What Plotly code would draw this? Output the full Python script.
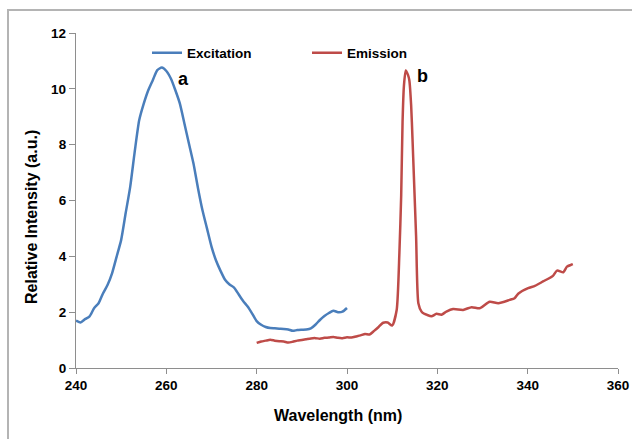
import plotly.graph_objects as go

# Excitation spectrum (blue)
exc_wl = [240, 241, 242, 243, 244, 245, 246, 247, 248, 249, 250, 251, 252, 253, 254,
          255, 256, 257, 258, 259, 260, 261, 262, 263, 264, 265, 266, 267, 268, 269,
          270, 271, 272, 273, 274, 275, 276, 277, 278, 279, 280, 281, 282, 283, 284,
          285, 286, 287, 288, 289, 290, 291, 292, 293, 294, 295, 296, 297, 298, 299, 300]
exc_int = [1.70, 1.63, 1.75, 1.85, 2.14, 2.32, 2.68, 2.98, 3.40, 3.99, 4.59, 5.55, 6.49, 7.75, 8.88,
           9.47, 9.95, 10.31, 10.67, 10.76, 10.64, 10.37, 9.95, 9.47, 8.76, 8.04, 7.33, 6.45, 5.65, 5.00,
           4.35, 3.85, 3.48, 3.16, 2.99, 2.88, 2.64, 2.40, 2.20, 1.95, 1.68, 1.55, 1.47, 1.43, 1.42,
           1.41, 1.40, 1.38, 1.33, 1.36, 1.37, 1.38, 1.42, 1.55, 1.72, 1.86, 1.97, 2.05, 2.00, 2.02, 2.15]

# Emission spectrum (red)
emi_wl = [280, 281, 282, 283, 284, 285, 286, 287, 288, 289, 290, 291, 292, 293, 294,
          295, 296, 297, 298, 299, 300, 301, 302, 303, 304, 305, 306, 307, 308, 309,
          310, 311, 311.6, 312.0, 312.3, 312.6, 313.0, 313.5, 313.8, 314.2, 314.5, 314.8,
          315.3, 315.8, 316.5, 317, 317.6, 318.7, 319.8, 320.9, 322, 323.5, 325.7, 327.6,
          329.4, 331.6, 333.5, 336, 337.1, 337.9, 340.1, 341.6, 343.4, 345.6, 346.5, 347.9,
          348.7, 349.7, 350]
emi_int = [0.90, 0.95, 0.98, 1.01, 0.98, 0.96, 0.95, 0.91, 0.94, 0.98, 1.00, 1.03, 1.06, 1.07, 1.05,
           1.08, 1.09, 1.11, 1.08, 1.07, 1.10, 1.09, 1.13, 1.17, 1.22, 1.20, 1.33, 1.47, 1.62, 1.63,
           1.52, 2.08, 4.12, 6.20, 8.82, 10.10, 10.66, 10.50, 10.31, 9.41, 8.22, 6.90,
           4.70, 2.32, 2.02, 1.95, 1.91, 1.85, 1.94, 1.91, 2.02, 2.11, 2.08, 2.18,
           2.14, 2.37, 2.32, 2.44, 2.50, 2.66, 2.86, 2.94, 3.10, 3.30, 3.49, 3.43,
           3.63, 3.70, 3.72]

x_ticks = [240, 260, 280, 300, 320, 340, 360]
y_ticks = [0, 2, 4, 6, 8, 10, 12]

FONT = "Liberation Sans, Arial, sans-serif"
AXIS_GRAY = "#8E8E8E"

# plot area geometry (pixels inside the figure)
L, T, PW, PH = 76, 33, 542, 335
BASE = T + PH


def px_x(p):
    return (p - L) / PW


def px_y(p):
    return (BASE - p) / PH


fig = go.Figure()
fig.add_trace(go.Scatter(x=exc_wl, y=exc_int, mode="lines", name="Excitation",
                         line=dict(color="#4A7EBB", width=2.5, shape="spline", smoothing=0.6)))
fig.add_trace(go.Scatter(x=emi_wl, y=emi_int, mode="lines", name="Emission",
                         line=dict(color="#BE4B48", width=2.5, shape="spline", smoothing=0.6)))

fig.update_layout(
    width=632, height=439,
    margin=dict(l=L, r=632 - L - PW, t=T, b=439 - T - PH, autoexpand=False),
    paper_bgcolor="white", plot_bgcolor="white",
    font=dict(family=FONT, color="black"),
    showlegend=True,
    legend=dict(orientation="h", x=px_x(147), xanchor="left", y=px_y(53), yanchor="middle",
                font=dict(size=13.5, family=FONT, color="black", weight="bold"),
                entrywidth=115, entrywidthmode="pixels",
                bgcolor="rgba(0,0,0,0)"),
    xaxis=dict(range=[240, 360], tickvals=x_ticks, ticktext=[str(v) for v in x_ticks],
               automargin=False,
               showgrid=False, zeroline=False, showline=True, linecolor=AXIS_GRAY, linewidth=1.3,
               ticks="outside", ticklen=5, tickcolor=AXIS_GRAY, tickwidth=1.3,
               tickfont=dict(size=13.5, family=FONT, color="black", weight="bold")),
    yaxis=dict(range=[0, 12], tickvals=y_ticks, ticktext=[str(v) for v in y_ticks],
               automargin=False,
               showgrid=False, zeroline=False, showline=True, linecolor=AXIS_GRAY, linewidth=1.3,
               ticks="outside", ticklen=6, tickcolor=AXIS_GRAY, tickwidth=1.3,
               tickfont=dict(size=13.5, family=FONT, color="black", weight="bold")),
)

# Outer chart border (extends beyond the bottom/right of the picture)
fig.add_shape(type="rect", xref="paper", yref="paper",
              x0=px_x(8), x1=px_x(645), y0=px_y(450), y1=px_y(10),
              line=dict(color="#B4B4B4", width=2), fillcolor="rgba(0,0,0,0)", layer="below")

# Axis titles
fig.add_annotation(text="Wavelength (nm)", xref="paper", yref="paper",
                   x=px_x(338), y=px_y(415), showarrow=False,
                   xanchor="center", yanchor="middle",
                   font=dict(size=16, family=FONT, color="black", weight="bold"))
fig.add_annotation(text="Relative Intensity (a.u.)", xref="paper", yref="paper",
                   x=px_x(31), y=px_y(217), showarrow=False, textangle=-90,
                   xanchor="center", yanchor="middle",
                   font=dict(size=16, family=FONT, color="black", weight="bold"))

# Peak labels
fig.add_annotation(text="a", x=263.7, y=10.36, xref="x", yref="y", showarrow=False,
                   font=dict(size=18, family=FONT, color="black", weight="bold"))
fig.add_annotation(text="b", x=316.8, y=10.47, xref="x", yref="y", showarrow=False,
                   font=dict(size=18, family=FONT, color="black", weight="bold"))

# remove the browser's default page margin so the figure sits at the window origin
fig.write_html("out.html", config={"displayModeBar": False},
               post_script="document.body.style.margin='0';")
